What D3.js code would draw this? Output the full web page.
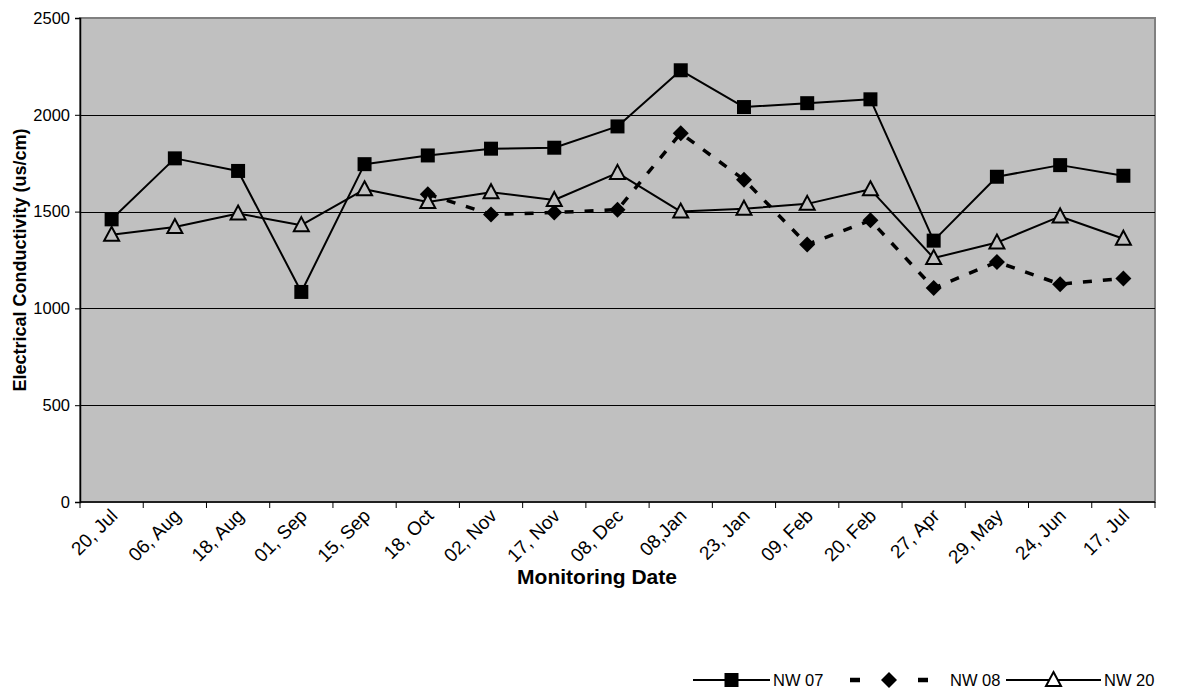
<!DOCTYPE html>
<html>
<head>
<meta charset="utf-8">
<script src="https://cdn.jsdelivr.net/npm/d3@7"></script>
<style>
  html, body { margin: 0; padding: 0; background: #fff; }
  svg { display: block; font-family: "Liberation Sans", Arial, sans-serif; }
</style>
</head>
<body>
<svg id="chart" width="1186" height="695"></svg>
<script>
// Monitoring dates (category axis)
const dates = ["20, Jul", "06, Aug", "18, Aug", "01, Sep", "15, Sep", "18, Oct", "02, Nov",
  "17, Nov", "08, Dec", "08,Jan", "23, Jan", "09, Feb", "20, Feb", "27, Apr", "29, May",
  "24, Jun", "17, Jul"];

// Electrical conductivity (us/cm) per well
const nw07 = [1460, 1775, 1710, 1085, 1745, 1790, 1825, 1830, 1940, 2230, 2040, 2060, 2080, 1350, 1680, 1740, 1685];
const nw08 = [null, null, null, null, null, 1590, 1485, 1495, 1510, 1905, 1665, 1330, 1455, 1105, 1240, 1125, 1155];
const nw20 = [1380, 1420, 1490, 1430, 1615, 1550, 1600, 1560, 1700, 1500, 1515, 1540, 1615, 1260, 1340, 1475, 1360];

const yTicks = [0, 500, 1000, 1500, 2000, 2500];

const svg = d3.select("#chart");
const plot = { left: 80, right: 1155, top: 18, bottom: 502 };

const x = d3.scaleBand().domain(dates).range([plot.left, plot.right]).paddingInner(0).paddingOuter(0);
const y = d3.scaleLinear().domain([0, 2500]).range([plot.bottom, plot.top]);
const cx = d => x(d) + x.bandwidth() / 2;

// plot background
svg.append("rect")
  .attr("x", plot.left).attr("y", plot.top)
  .attr("width", plot.right - plot.left).attr("height", plot.bottom - plot.top)
  .attr("fill", "#c0c0c0").attr("stroke", "#808080").attr("stroke-width", 2);

// horizontal gridlines
svg.append("g").selectAll("line")
  .data(yTicks.filter(t => t > 0 && t < 2500))
  .join("line")
  .attr("x1", plot.left).attr("x2", plot.right)
  .attr("y1", d => Math.round(y(d)) + 0.5).attr("y2", d => Math.round(y(d)) + 0.5)
  .attr("stroke", "#000").attr("stroke-width", 1);

// y axis
const yAxis = svg.append("g")
  .attr("transform", `translate(${plot.left},0)`)
  .call(d3.axisLeft(y).tickValues(yTicks).tickSize(5).tickPadding(5).tickFormat(d3.format("d")));
yAxis.select(".domain").attr("stroke", "#000").attr("stroke-width", 1.5);
yAxis.selectAll(".tick line").attr("stroke", "#000");
yAxis.selectAll(".tick text").attr("font-size", 16.5).attr("fill", "#000")
  .attr("font-family", "'Liberation Sans', Arial, sans-serif");

// x axis with ticks on category boundaries
const xAxisG = svg.append("g").attr("transform", `translate(0,${plot.bottom})`);
xAxisG.append("line")
  .attr("x1", plot.left).attr("x2", plot.right)
  .attr("y1", 0).attr("y2", 0)
  .attr("stroke", "#000").attr("stroke-width", 1.5);
const bounds = dates.map(d => x(d)).concat([plot.right]);
xAxisG.selectAll("line.tk").data(bounds).join("line")
  .attr("class", "tk")
  .attr("x1", d => d).attr("x2", d => d)
  .attr("y1", 0).attr("y2", 6)
  .attr("stroke", "#000").attr("stroke-width", 1);
xAxisG.selectAll("text").data(dates).join("text")
  .attr("transform", d => `translate(${cx(d) + 7},${15}) rotate(-45)`)
  .attr("text-anchor", "end")
  .attr("font-size", 19)
  .attr("fill", "#000")
  .text(d => d);

// axis titles
svg.append("text")
  .attr("x", 597).attr("y", 584)
  .attr("text-anchor", "middle").attr("font-weight", "bold").attr("font-size", 21)
  .text("Monitoring Date");
svg.append("text")
  .attr("transform", `translate(26,${(plot.top + plot.bottom) / 2}) rotate(-90)`)
  .attr("text-anchor", "middle").attr("font-weight", "bold").attr("font-size", 18)
  .text("Electrical Conductivity (us/cm)");

// series definitions
const series = [
  { name: "NW 07", values: nw07, dash: null, width: 2, marker: "square" },
  { name: "NW 08", values: nw08, dash: "9,11", width: 3.5, marker: "diamond" },
  { name: "NW 20", values: nw20, dash: null, width: 2, marker: "triangle" }
];

const symbolPath = {
  square: d3.symbol().type(d3.symbolSquare).size(196)(),
  diamond: "M0,-8L8,0L0,8L-8,0Z",
  triangle: "M0,-8L7.5,6L-7.5,6Z"
};

function drawMarker(g, type, px, py, bg) {
  const m = g.append("path").attr("d", symbolPath[type]).attr("transform", `translate(${px},${py})`);
  if (type === "triangle") {
    m.attr("fill", bg).attr("stroke", "#000").attr("stroke-width", 2);
  } else {
    m.attr("fill", "#000").attr("stroke", "none");
  }
}

series.forEach(s => {
  const pts = dates.map((d, i) => ({ d, v: s.values[i] })).filter(p => p.v != null);
  const line = d3.line().x(p => cx(p.d)).y(p => y(p.v));
  const g = svg.append("g");
  g.append("path")
    .attr("d", line(pts))
    .attr("fill", "none")
    .attr("stroke", "#000")
    .attr("stroke-width", s.width)
    .attr("stroke-dasharray", s.dash)
    .attr("stroke-linejoin", "round");
  pts.forEach(p => drawMarker(g, s.marker, cx(p.d), y(p.v), "#c0c0c0"));
});

// legend
const legendY = 680;
const legendItems = [
  { s: series[0], x0: 693, x1: 770, tx: 773, dash: null, width: 2 },
  { s: series[1], x0: 850, x1: 928, tx: 950, dash: "10,24", width: 4.5 },
  { s: series[2], x0: 1006, x1: 1101, tx: 1104, dash: null, width: 2 }
];
const lg = svg.append("g");
legendItems.forEach(it => {
  lg.append("line")
    .attr("x1", it.x0).attr("x2", it.x1).attr("y1", legendY).attr("y2", legendY)
    .attr("stroke", "#000").attr("stroke-width", it.width)
    .attr("stroke-dasharray", it.dash);
  drawMarker(lg, it.s.marker, (it.x0 + it.x1) / 2, legendY, "#fff");
  lg.append("text")
    .attr("x", it.tx).attr("y", legendY + 6)
    .attr("font-size", 16.5).attr("fill", "#000")
    .text(it.s.name);
});
</script>
</body>
</html>
